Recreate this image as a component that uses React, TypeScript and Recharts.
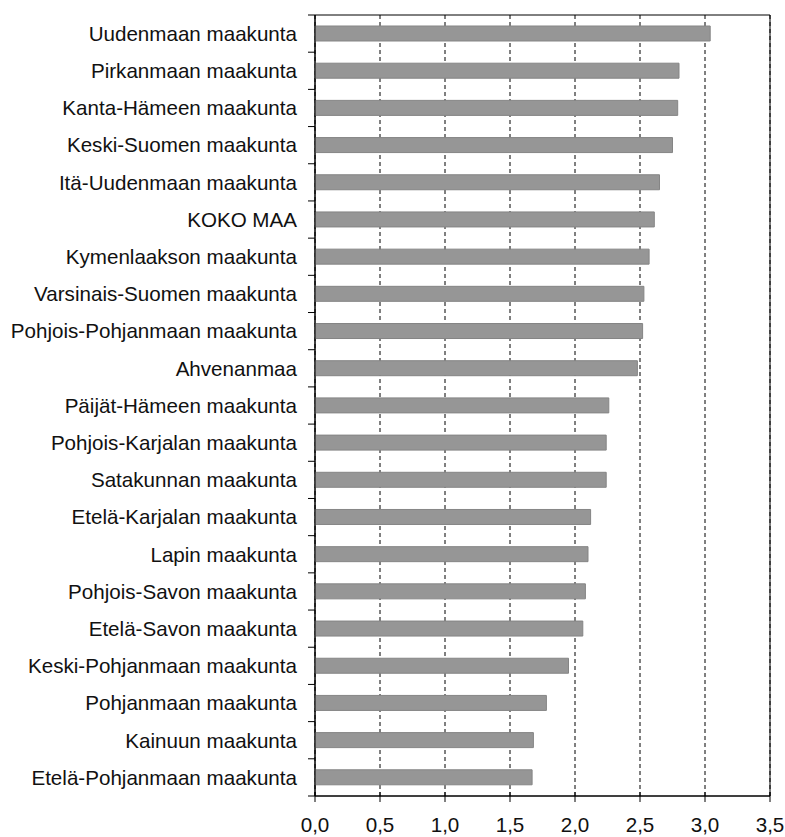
import React from "react";
import { BarChart, Bar, XAxis, YAxis, CartesianGrid, ReferenceArea } from "recharts";

const regions = [
  "Uudenmaan maakunta",
  "Pirkanmaan maakunta",
  "Kanta-Hämeen maakunta",
  "Keski-Suomen maakunta",
  "Itä-Uudenmaan maakunta",
  "KOKO MAA",
  "Kymenlaakson maakunta",
  "Varsinais-Suomen maakunta",
  "Pohjois-Pohjanmaan maakunta",
  "Ahvenanmaa",
  "Päijät-Hämeen maakunta",
  "Pohjois-Karjalan maakunta",
  "Satakunnan maakunta",
  "Etelä-Karjalan maakunta",
  "Lapin maakunta",
  "Pohjois-Savon maakunta",
  "Etelä-Savon maakunta",
  "Keski-Pohjanmaan maakunta",
  "Pohjanmaan maakunta",
  "Kainuun maakunta",
  "Etelä-Pohjanmaan maakunta",
];

const values = [
  3.04, 2.8, 2.79, 2.75, 2.65, 2.61, 2.57, 2.53, 2.52, 2.48, 2.26,
  2.24, 2.24, 2.12, 2.1, 2.08, 2.06, 1.95, 1.78, 1.68, 1.67,
];

const xTicks = [0, 0.5, 1, 1.5, 2, 2.5, 3, 3.5];

const data = regions.map((name, i) => ({ name, value: values[i] }));

const W = 785;
const H = 837;
const TOP = 15;
const RIGHT = 15;
const Y_AXIS_W = 315;
const X_AXIS_H = 41;
const band = (H - TOP - X_AXIS_H) / regions.length;
const font = "'Liberation Sans', Arial, sans-serif";

// category ticks sit on the band boundaries, not the centres
const YTick = (props: any) => {
  const { x, y, payload, index } = props;
  return (
    <g>
      <line x1={x - 7} x2={x} y1={y - band / 2} y2={y - band / 2} stroke="#000" />
      {index === regions.length - 1 && (
        <line x1={x - 7} x2={x} y1={y + band / 2} y2={y + band / 2} stroke="#000" />
      )}
      <text x={x - 18} y={y} dy="0.355em" textAnchor="end" fontSize={20.6} fontFamily={font} fill="#111">
        {payload.value}
      </text>
    </g>
  );
};

const XTick = (props: any) => {
  const { x, y, payload } = props;
  return (
    <g>
      <line x1={x} x2={x} y1={y - 4} y2={y + 6} stroke="#000" />
      <text x={x} y={y + 21} dy="0.71em" textAnchor="middle" fontSize={20.6} fontFamily={font} fill="#111">
        {payload.value.toFixed(1).replace(".", ",")}
      </text>
    </g>
  );
};

export default function App() {
  return (
    <div style={{ position: "absolute", left: 0, top: 0, background: "#fff" }}>
      <BarChart
        width={W}
        height={H}
        data={data}
        layout="vertical"
        margin={{ top: TOP, right: RIGHT, bottom: 0, left: 0 }}
        barCategoryGap={0}
      >
        <CartesianGrid horizontal={false} stroke="#000" strokeDasharray="4 3" />
        <XAxis
          type="number"
          domain={[0, 3.5]}
          ticks={xTicks}
          height={X_AXIS_H}
          tickSize={0}
          tickMargin={0}
          tickLine={false}
          axisLine={{ stroke: "#000" }}
          tick={<XTick />}
          interval={0}
        />
        <YAxis
          type="category"
          dataKey="name"
          width={Y_AXIS_W}
          tickSize={0}
          tickMargin={0}
          tickLine={false}
          axisLine={{ stroke: "#000" }}
          tick={<YTick />}
          interval={0}
        />
        <ReferenceArea x1={0} x2={3.5} fill="none" stroke="#000" ifOverflow="visible" />
        <Bar dataKey="value" fill="#969696" stroke="#858585" barSize={15} isAnimationActive={false} />
      </BarChart>
    </div>
  );
}
